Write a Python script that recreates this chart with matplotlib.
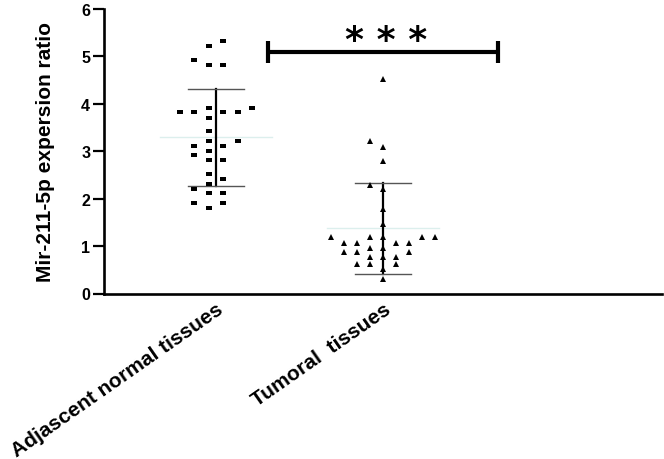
import numpy as np
import matplotlib
matplotlib.use("Agg")
import matplotlib.pyplot as plt

plt.rcParams['font.family'] = ['Liberation Sans', 'DejaVu Sans']
plt.rcParams['font.weight'] = 'bold'

# values (expression ratio per sample)
groups = ["Adjascent normal tissues", "Tumoral  tissues"]
normal = [5.32, 5.23, 4.92, 4.82, 4.82, 3.92, 3.92, 3.82, 3.82, 3.82, 3.82,
          3.71, 3.42, 3.21, 3.21, 3.11, 3.11, 3.01, 2.92, 2.81, 2.81, 2.51,
          2.41, 2.31, 2.21, 2.11, 2.11, 1.91, 1.91, 1.80]
tumoral = [4.52, 3.21, 3.10, 2.80, 2.29, 2.20, 1.78, 1.47, 1.19, 1.19, 1.19,
           1.19, 1.19, 1.07, 1.07, 1.07, 1.07, 0.97, 0.97, 0.87, 0.87, 0.87,
           0.76, 0.76, 0.76, 0.63, 0.63, 0.63, 0.52, 0.30]
signif = "* * *"


def swarm(values, slots, step, min_gap):
    # simple column packing: take the first slot not already used by a close value
    placed = []
    offs = []
    for v in values:
        for s in slots:
            if all(ps != s or abs(v - pv) >= min_gap for pv, ps in placed):
                break
        placed.append((v, s))
        offs.append(s * step)
    return np.array(offs)


fig = plt.figure(figsize=(6.64, 4.60), dpi=100)
ax = fig.add_axes([104 / 664, 1 - 294.5 / 460, 558 / 664, 284.5 / 460])

rect = [(-1.45, -1), (1.45, -1), (1.45, 1), (-1.45, 1), (-1.45, -1)]
slots1 = [-0.5, 0.5, -1.5, 1.5, -2.5, 2.5, -3.5, 3.5]
slots2 = [0, -1, 1, -2, 2, -3, 3, -4, 4, -5, 5]
styles = [(normal, slots1, 0.087, 0.12, rect, 5.0),
          (tumoral, slots2, 0.078, 0.13, '^', 4.8)]

for i, (vals, slots, step, gap, mk, ms) in enumerate(styles):
    vals = np.sort(np.array(vals))
    m = vals.mean()
    sd = vals.std(ddof=1)
    # mean line (faint) and SD whiskers
    ax.plot([i - 0.335, i + 0.335], [m, m], color='#dcefed', lw=1, zorder=1)
    ax.plot([i, i], [m - sd, m + sd], color='black', lw=1.6, zorder=2)
    for y in (m - sd, m + sd):
        ax.plot([i - 0.165, i + 0.165], [y, y], color='#555555', lw=1, zorder=2)
    xs = i + swarm(vals, slots, step, gap)
    ax.plot(xs, vals, linestyle='none', marker=mk, markersize=ms,
            color='black', markeredgewidth=0, zorder=3)

# significance bracket
ax.plot([0.31, 1.69], [5.1, 5.1], color='black', lw=3, solid_capstyle='butt')
for xb in (0.31, 1.69):
    ax.plot([xb, xb], [4.87, 5.33], color='black', lw=3, solid_capstyle='butt')
ax.text(1.02, 5.13, signif, ha='center', va='baseline', fontsize=26,
        fontweight='bold', family='DejaVu Sans')

ax.set_xlim(-0.671, 2.671)
ax.set_ylim(0, 6)
ax.set_yticks(range(0, 7))
ax.set_xticks([0, 1])
ax.set_xticklabels(groups, rotation=35, ha='right', va='top',
                   rotation_mode='anchor', fontsize=15, fontweight='bold')
ax.tick_params(axis='x', length=0, pad=4)
ax.tick_params(axis='y', length=8, width=1.6, labelsize=11.5, pad=2)
for lab in ax.get_yticklabels():
    lab.set_fontweight('bold')
ax.set_ylabel("Mir-211-5p expersion ratio", fontsize=15, fontweight='bold',
              labelpad=19)

for side in ('top', 'right'):
    ax.spines[side].set_visible(False)
for side in ('left', 'bottom'):
    ax.spines[side].set_linewidth(1.9)

fig.savefig("out.png", dpi=100)
